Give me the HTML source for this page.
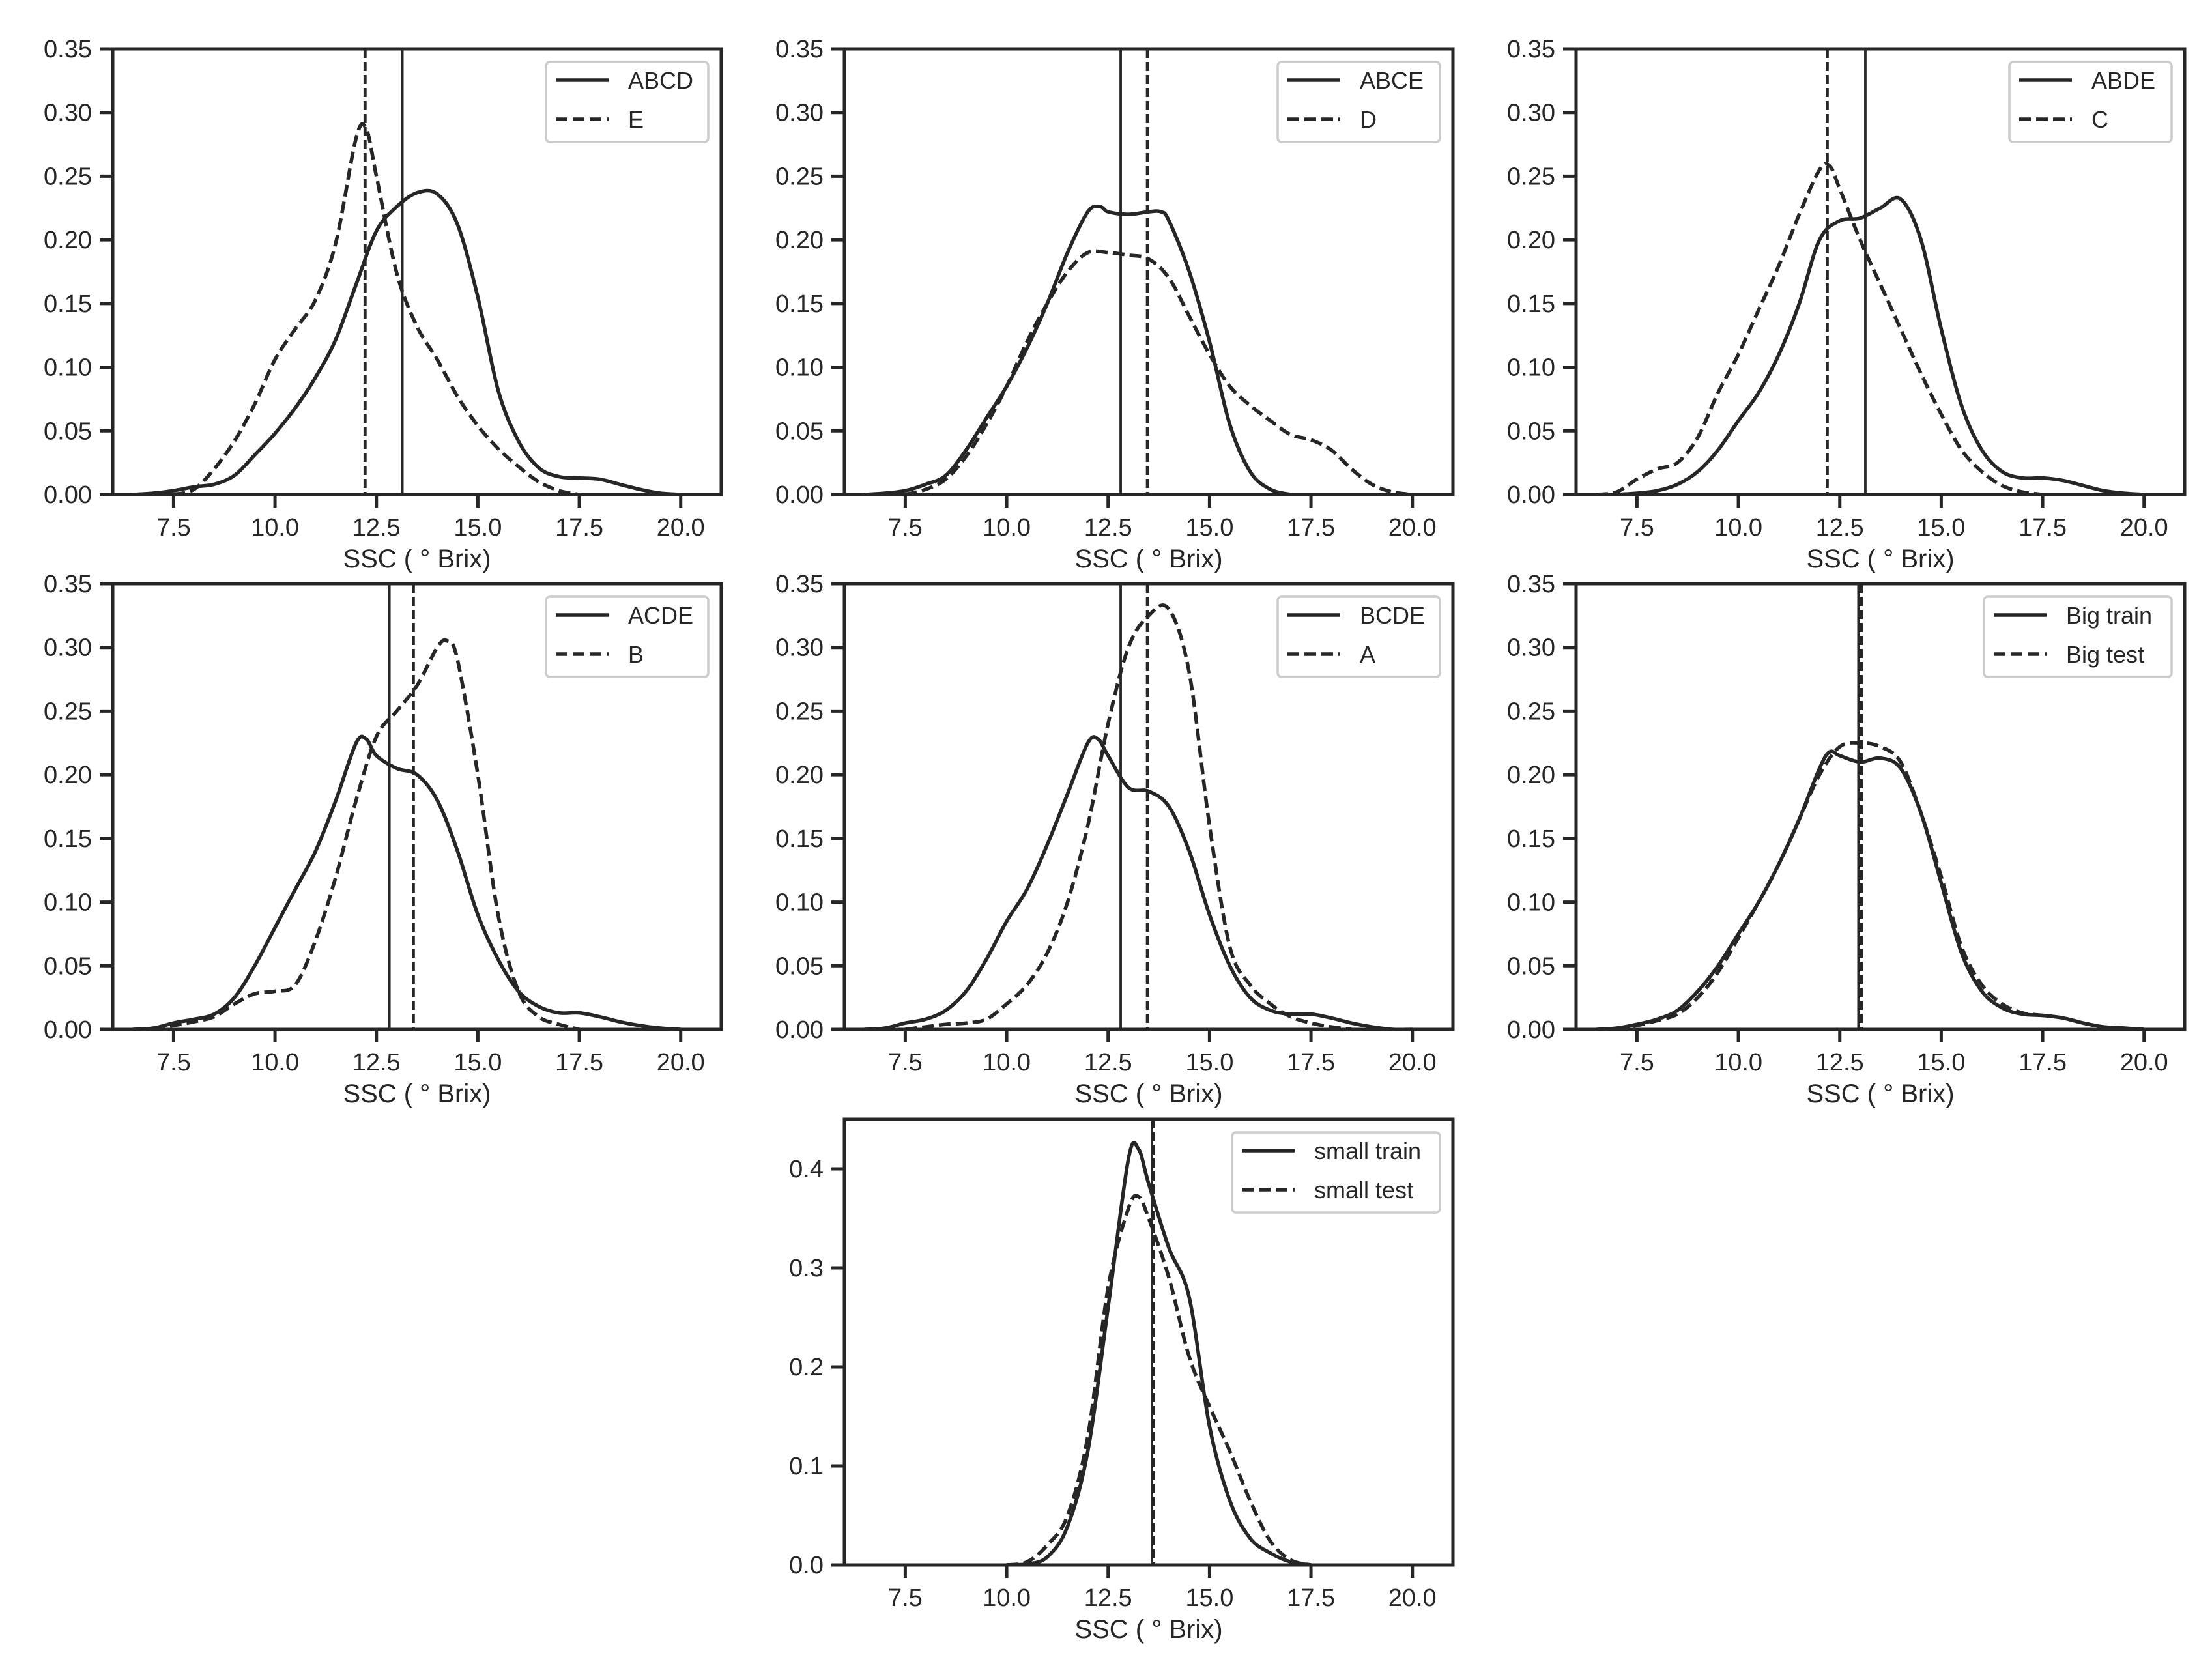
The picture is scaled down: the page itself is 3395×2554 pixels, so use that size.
<!DOCTYPE html>
<html><head><meta charset="utf-8">
<style>
html,body{margin:0;padding:0;background:#fff;}
svg{display:block;font-family:"Liberation Sans",Arial,sans-serif;}
</style></head>
<body>
<svg id="fig" width="3395" height="2554" viewBox="0 0 3395 2554" xmlns="http://www.w3.org/2000/svg"></svg>
<script>
// ---- data (x in °Brix, y density) ----
const xTicks = [7.5, 10.0, 12.5, 15.0, 17.5, 20.0];
const yTicksTop = [0, 0.05, 0.10, 0.15, 0.20, 0.25, 0.30, 0.35];
const yTicksSmall = [0, 0.1, 0.2, 0.3, 0.4];

const p1SolidX = [6.5,7,7.5,8,8.5,9,9.5,10,10.5,11,11.5,12,12.5,13,13.5,14,14.5,15,15.5,16,16.5,17,17.5,18,18.5,19,19.5,20];
const p1SolidY = [0,0.001,0.003,0.006,0.008,0.015,0.031,0.048,0.068,0.092,0.122,0.165,0.207,0.226,0.237,0.236,0.212,0.155,0.082,0.042,0.021,0.014,0.013,0.012,0.008,0.004,0.001,0];
const p1DashX = [7.5,8,8.5,9,9.5,10,10.5,11,11.5,12,12.25,12.5,13,13.5,14,14.5,15,15.5,16,16.5,17,17.5];
const p1DashY = [0,0.004,0.02,0.042,0.071,0.106,0.13,0.153,0.198,0.28,0.287,0.25,0.174,0.132,0.106,0.077,0.054,0.036,0.022,0.01,0.003,0];

const p2SolidX = [6.5,7,7.5,8,8.5,9,9.5,10,10.5,11,11.5,12,12.3,12.5,13,13.5,13.8,14,14.5,15,15.5,16,16.5,17];
const p2SolidY = [0,0.001,0.003,0.008,0.015,0.035,0.06,0.085,0.115,0.15,0.19,0.222,0.226,0.222,0.22,0.222,0.222,0.215,0.175,0.12,0.055,0.018,0.004,0];
const p2DashX = [7.5,8,8.5,9,9.5,10,10.5,11,11.5,12,12.5,13,13.5,14,14.5,15,15.5,16,16.5,17,17.5,18,18.5,19,19.5,20];
const p2DashY = [0,0.004,0.012,0.03,0.055,0.085,0.12,0.15,0.175,0.19,0.19,0.188,0.185,0.17,0.14,0.11,0.085,0.07,0.058,0.047,0.043,0.035,0.02,0.008,0.002,0];

const p3SolidX = [7,7.5,8,8.5,9,9.5,10,10.5,11,11.5,12,12.5,13,13.5,14,14.5,15,15.5,16,16.5,17,17.5,18,18.5,19,19.5,20];
const p3SolidY = [0,0.001,0.003,0.008,0.018,0.035,0.058,0.08,0.11,0.15,0.2,0.215,0.217,0.225,0.232,0.2,0.13,0.07,0.035,0.018,0.013,0.013,0.011,0.007,0.003,0.001,0];
const p3DashX = [6.5,7,7.5,8,8.5,9,9.5,10,10.5,11,11.5,12,12.25,12.5,13,13.5,14,14.5,15,15.5,16,16.5,17,17.5];
const p3DashY = [0,0.002,0.012,0.02,0.025,0.045,0.08,0.11,0.145,0.18,0.22,0.255,0.258,0.24,0.2,0.165,0.13,0.095,0.063,0.035,0.018,0.007,0.002,0];

const p4SolidX = [6.5,7,7.5,8,8.5,9,9.5,10,10.5,11,11.5,12,12.25,12.5,13,13.5,14,14.5,15,15.5,16,16.5,17,17.5,18,18.5,19,19.5,20];
const p4SolidY = [0,0.001,0.005,0.008,0.012,0.025,0.05,0.08,0.11,0.14,0.18,0.225,0.228,0.215,0.205,0.2,0.18,0.14,0.09,0.055,0.03,0.018,0.013,0.013,0.01,0.006,0.003,0.001,0];
const p4DashX = [7,7.5,8,8.5,9,9.5,10,10.5,11,11.5,12,12.5,13,13.5,14,14.25,14.5,15,15.5,16,16.5,17,17.5];
const p4DashY = [0,0.003,0.006,0.01,0.02,0.028,0.03,0.035,0.07,0.12,0.18,0.23,0.25,0.27,0.3,0.305,0.29,0.2,0.09,0.03,0.01,0.004,0];

const p5SolidX = [6.5,7,7.5,8,8.5,9,9.5,10,10.5,11,11.5,12,12.25,12.5,13,13.5,14,14.5,15,15.5,16,16.5,17,17.5,18,18.5,19,19.5,20];
const p5SolidY = [0,0.001,0.005,0.008,0.015,0.03,0.055,0.085,0.11,0.145,0.185,0.225,0.228,0.215,0.19,0.187,0.175,0.14,0.09,0.05,0.025,0.015,0.012,0.012,0.009,0.005,0.002,0.0,0];
const p5DashX = [7.5,8,8.5,9,9.5,10,10.5,11,11.5,12,12.5,13,13.5,14,14.5,15,15.5,16,16.5,17,17.5,18,18.5];
const p5DashY = [0,0.002,0.004,0.005,0.008,0.02,0.035,0.06,0.1,0.16,0.24,0.3,0.325,0.33,0.28,0.16,0.065,0.035,0.02,0.01,0.005,0.002,0];

const p6SolidX = [6.5,7,7.5,8,8.5,9,9.5,10,10.5,11,11.5,12,12.25,12.5,13,13.5,14,14.5,15,15.5,16,16.5,17,17.5,18,18.5,19,19.5,20];
const p6SolidY = [0,0.001,0.004,0.008,0.015,0.03,0.05,0.075,0.1,0.13,0.165,0.205,0.218,0.215,0.21,0.213,0.205,0.17,0.115,0.06,0.03,0.017,0.012,0.011,0.009,0.005,0.002,0.001,0];
const p6DashX = [7,7.5,8,8.5,9,9.5,10,10.5,11,11.5,12,12.5,13,13.5,14,14.5,15,15.5,16,16.5,17,17.5,18,18.5,19,19.5,20];
const p6DashY = [0,0.003,0.007,0.012,0.025,0.045,0.072,0.1,0.13,0.165,0.2,0.222,0.225,0.222,0.21,0.17,0.12,0.065,0.035,0.02,0.013,0.011,0.009,0.005,0.002,0.001,0];

const p7SolidX = [10,10.5,11,11.5,12,12.5,13,13.25,13.5,14,14.5,15,15.5,16,16.5,17,17.5];
const p7SolidY = [0,0.001,0.008,0.039,0.115,0.26,0.41,0.42,0.385,0.32,0.27,0.14,0.065,0.027,0.012,0.003,0];
const p7DashX = [10,10.5,11,11.5,12,12.5,13,13.25,13.5,14,14.5,15,15.5,16,16.5,17,17.5];
const p7DashY = [0,0.003,0.02,0.05,0.13,0.28,0.36,0.372,0.35,0.29,0.21,0.16,0.115,0.065,0.024,0.005,0];

const solidMeans = [13.14, 12.81, 13.13, 12.82, 12.81, 12.96, 13.58];
const dashMeans  = [12.22, 13.47, 12.19, 13.41, 13.47, 13.03, 13.62];
const solidNames = ["ABCD","ABCE","ABDE","ACDE","BCDE","Big train","small train"];
const dashNames  = ["E","D","C","B","A","Big test","small test"];

// ---- layout ----
const NS = "http://www.w3.org/2000/svg";
const svg = document.getElementById("fig");
const INK = "#262626";
const colX = [173, 1296, 2419];
const rowY = [75, 896, 1718];
const AW = 934, AH = 684;
const XMIN = 6.0, XMAX = 21.0;
const legendW = [249, 249, 249, 249, 249, 288, 319];

const panels = [
  {c:0,r:0,sx:p1SolidX,sy:p1SolidY,dx:p1DashX,dy:p1DashY,ymax:0.35,yt:yTicksTop,dec:2},
  {c:1,r:0,sx:p2SolidX,sy:p2SolidY,dx:p2DashX,dy:p2DashY,ymax:0.35,yt:yTicksTop,dec:2},
  {c:2,r:0,sx:p3SolidX,sy:p3SolidY,dx:p3DashX,dy:p3DashY,ymax:0.35,yt:yTicksTop,dec:2},
  {c:0,r:1,sx:p4SolidX,sy:p4SolidY,dx:p4DashX,dy:p4DashY,ymax:0.35,yt:yTicksTop,dec:2},
  {c:1,r:1,sx:p5SolidX,sy:p5SolidY,dx:p5DashX,dy:p5DashY,ymax:0.35,yt:yTicksTop,dec:2},
  {c:2,r:1,sx:p6SolidX,sy:p6SolidY,dx:p6DashX,dy:p6DashY,ymax:0.35,yt:yTicksTop,dec:2},
  {c:1,r:2,sx:p7SolidX,sy:p7SolidY,dx:p7DashX,dy:p7DashY,ymax:0.45,yt:yTicksSmall,dec:1}
];

function mk(tag, attrs, parent){
  const e = document.createElementNS(NS, tag);
  for (const k in attrs) e.setAttribute(k, attrs[k]);
  (parent||svg).appendChild(e);
  return e;
}
function smoothPath(pts){
  let d = "M" + pts[0][0].toFixed(1) + "," + pts[0][1].toFixed(1);
  for (let i=0;i<pts.length-1;i++){
    const p0 = pts[Math.max(0,i-1)], p1 = pts[i], p2 = pts[i+1], p3 = pts[Math.min(pts.length-1,i+2)];
    const c1x = p1[0] + (p2[0]-p0[0])/6, c1y = p1[1] + (p2[1]-p0[1])/6;
    const c2x = p2[0] - (p3[0]-p1[0])/6, c2y = p2[1] - (p3[1]-p1[1])/6;
    d += " C" + c1x.toFixed(1)+","+c1y.toFixed(1)+" "+c2x.toFixed(1)+","+c2y.toFixed(1)+" "+p2[0].toFixed(1)+","+p2[1].toFixed(1);
  }
  return d;
}

panels.forEach((p, idx) => {
  const L = colX[p.c], T = rowY[p.r], R = L + AW, B = T + AH;
  const xs = v => L + (v - XMIN) / (XMAX - XMIN) * AW;
  const ys = v => B - v / p.ymax * AH;
  const g = mk("g", {});
  
  

  p.yt.forEach(v => {
    const y = ys(v);
    const t = mk("line", {x1:L-20, x2:L, y1:y, y2:y, stroke:INK, "stroke-width":5}, g);
    
    
    const tx = mk("text", {x:L-32, y:y+13, "text-anchor":"end", "font-size":38, fill:INK}, g);
    tx.textContent = v.toFixed(p.dec);
    
    
  });
  xTicks.forEach(v => {
    const x = xs(v);
    const t = mk("line", {x1:x, x2:x, y1:B, y2:B+20, stroke:INK, "stroke-width":5}, g);
    
    
    const tx = mk("text", {x:x, y:B+63, "text-anchor":"middle", "font-size":38, fill:INK}, g);
    tx.textContent = v.toFixed(1);
    
    
  });
  const xl = mk("text", {x:L+AW/2, y:B+112, "text-anchor":"middle", "font-size":40, fill:INK}, g);
  xl.textContent = "SSC ( ° Brix)";
  
  

  const cp = mk("clipPath", {id:"cp"+idx}, g);
  mk("rect", {x:L, y:T, width:AW, height:AH}, cp);
  const plot = mk("g", {"clip-path":"url(#cp"+idx+")"}, g);

  const sp = mk("path", {d:smoothPath(p.sx.map((v,i)=>[xs(v), ys(p.sy[i])])), fill:"none", stroke:INK, "stroke-width":5.5, "stroke-linejoin":"round"}, plot);
  
  
  const dp = mk("path", {d:smoothPath(p.dx.map((v,i)=>[xs(v), ys(p.dy[i])])), fill:"none", stroke:INK, "stroke-width":5.5, "stroke-dasharray":"18,8"}, plot);
  
  

  const sm = mk("line", {x1:xs(solidMeans[idx]), x2:xs(solidMeans[idx]), y1:T, y2:B, stroke:INK, "stroke-width":3.8}, plot);
  
  
  const dm = mk("line", {x1:xs(dashMeans[idx]), x2:xs(dashMeans[idx]), y1:T, y2:B, stroke:INK, "stroke-width":4.8, "stroke-dasharray":"14,6"}, plot);
  
  

  const fr = mk("rect", {x:L, y:T, width:AW, height:AH, fill:"none", stroke:INK, "stroke-width":5}, g);
  
  

  const lw = legendW[idx];
  const lx = R - 20 - lw, ly = T + 20;
  const lg = mk("g", {}, g);
  
  
  mk("rect", {x:lx, y:ly, width:lw, height:123, rx:6, fill:"#fff", stroke:"#cccccc", "stroke-width":3.5}, lg);
  mk("line", {x1:lx+15, x2:lx+96, y1:ly+28, y2:ly+28, stroke:INK, "stroke-width":5.5}, lg);
  mk("line", {x1:lx+15, x2:lx+96, y1:ly+88, y2:ly+88, stroke:INK, "stroke-width":5.5, "stroke-dasharray":"18,8"}, lg);
  const t1 = mk("text", {x:lx+126, y:ly+41, "font-size":36, fill:INK}, lg);
  t1.textContent = solidNames[idx];
  
  
  const t2 = mk("text", {x:lx+126, y:ly+101, "font-size":36, fill:INK}, lg);
  t2.textContent = dashNames[idx];
  
  
});
</script>
</body></html>
